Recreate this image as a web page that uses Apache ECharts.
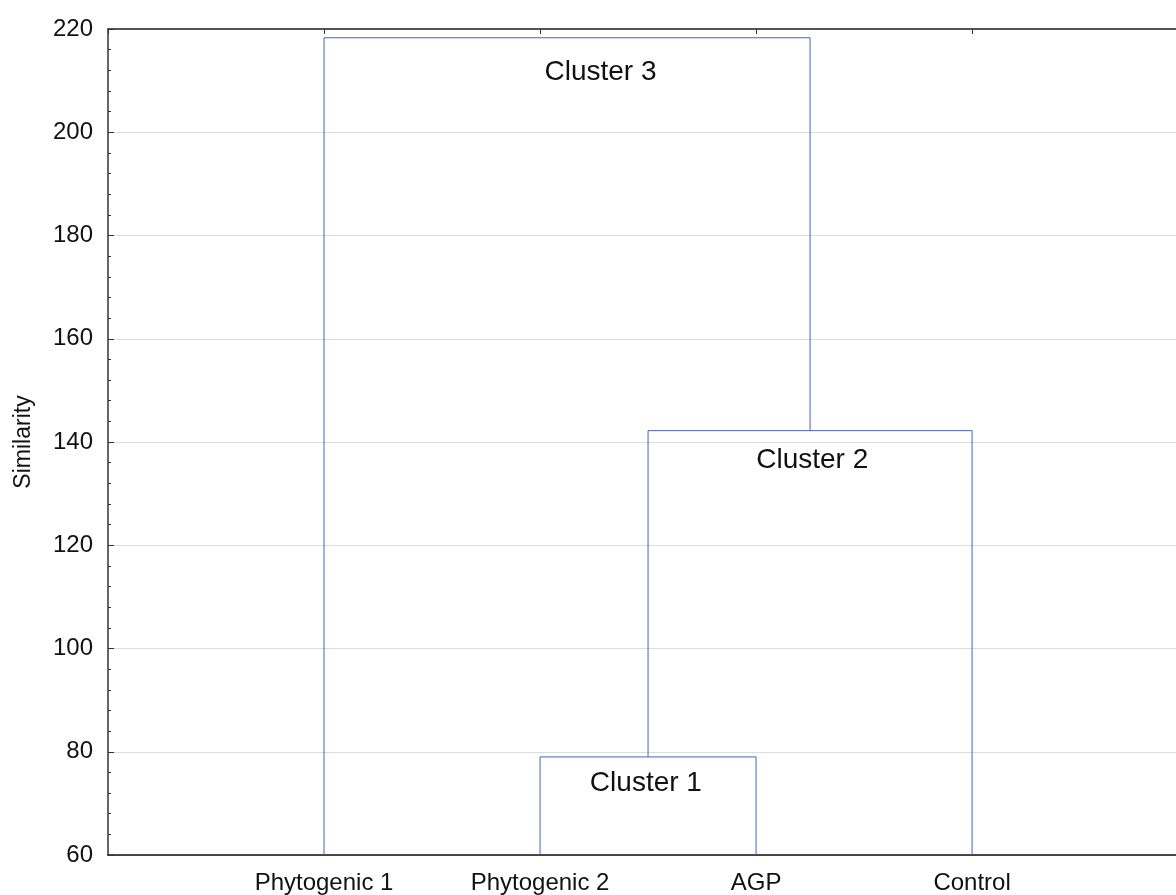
<!DOCTYPE html>
<html><head><meta charset="utf-8">
<script src="https://cdn.jsdelivr.net/npm/echarts@6/dist/echarts.min.js"></script>
<style>html,body{margin:0;padding:0;background:#fff}#c{width:1176px;height:895px}</style>
</head><body><div id="c"></div>
<script>
// leaves (categories) at positions 1..4
const categories = ['Phytogenic 1', 'Phytogenic 2', 'AGP', 'Control'];
// merges: [left node, right node, height]; nodes: 'L<i>' leaf index, 'C<i>' cluster index
const mergeLeft = ['L1', 'C0', 'L0'];
const mergeRight = ['L2', 'L3', 'C1'];
const mergeHeight = [79.0, 142.2, 218.3];
const clusterNames = ['Cluster 1', 'Cluster 2', 'Cluster 3'];
const clusterLabelX = [2.49, 3.26, 2.28];
const clusterLabelY = [73.8, 136.4, 211.7];
const yTicks = [60, 80, 100, 120, 140, 160, 180, 200, 220];
const baseHeight = 60;
const xMin = 0, xMax = 4.944;

function nodePos(id, merges) {
  if (id[0] === 'L') return { x: +id.slice(1) + 1, y: baseHeight };
  return merges[+id.slice(1)];
}
const merges = [];
const segs = [];
for (let i = 0; i < mergeHeight.length; i++) {
  const a = nodePos(mergeLeft[i], merges), b = nodePos(mergeRight[i], merges), h = mergeHeight[i];
  segs.push([[a.x, a.y], [a.x, h], [b.x, h], [b.x, b.y]]);
  merges.push({ x: (a.x + b.x) / 2, y: h });
}

const chart = echarts.init(document.getElementById('c'));
const lineColor = '#4A62BA';
const font = 'Liberation Sans, Arial, sans-serif';
const series = segs.map(s => ({
  type: 'line', data: s, symbol: 'none', silent: true, xAxisIndex: 0,
  lineStyle: { color: lineColor, width: 1 }, animation: false
}));
series.push({
  type: 'scatter', symbolSize: 0, animation: false, silent: true,
  itemStyle: { opacity: 1 },
  data: clusterNames.map((n, i) => ({ value: [clusterLabelX[i], clusterLabelY[i]], name: n })),
  label: { show: true, position: 'inside', formatter: p => p.name, opacity: 1,
    textBorderWidth: 0, fontFamily: font, fontSize: 28, color: '#111' }
});

chart.setOption({
  animation: false,
  grid: { left: 108, top: 29, right: 0, bottom: 39 },
  xAxis: [{
    type: 'value', min: xMin, max: xMax, interval: 1, position: 'bottom',
    axisLine: { show: true, lineStyle: { color: '#111', width: 1.5 } },
    axisTick: { show: false },
    splitLine: { show: false },
    axisLabel: { margin: 16, fontFamily: font, fontSize: 24, color: '#111', showMaxLabel: false,
      formatter: v => (v >= 1 && v <= categories.length && Number.isInteger(v)) ? categories[v - 1] : '' }
  }, {
    type: 'value', min: xMin, max: xMax, interval: 1, position: 'top',
    axisLine: { show: true, onZero: false, lineStyle: { color: '#555', width: 2 } },
    axisTick: { show: true, inside: true, length: 5, lineStyle: { color: '#333' } },
    axisLabel: { show: false }, splitLine: { show: false }
  }],
  yAxis: {
    type: 'value', min: yTicks[0], max: yTicks[yTicks.length - 1], interval: 20,
    name: 'Similarity', nameLocation: 'middle', nameGap: 73,
    nameTextStyle: { fontFamily: font, fontSize: 23, color: '#111' },
    axisLine: { show: true, lineStyle: { color: '#333', width: 1.5 } },
    axisTick: { show: true, inside: true, length: 6, lineStyle: { color: '#333' } },
    minorTick: { show: true, splitNumber: 5, length: 3, lineStyle: { color: '#333' } },
    splitLine: { show: true, lineStyle: { color: '#dcdcdc', width: 1 } },
    axisLabel: { margin: 15, fontFamily: font, fontSize: 24, color: '#111' }
  },
  series: series
});
</script></body></html>
